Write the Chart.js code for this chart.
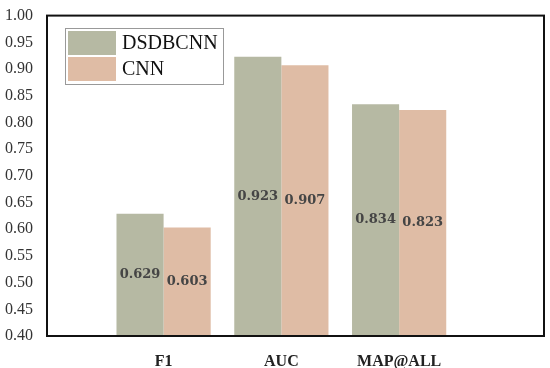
<!DOCTYPE html>
<html>
<head>
<meta charset="utf-8">
<script src="https://cdn.jsdelivr.net/npm/chart.js@4/dist/chart.umd.min.js"></script>
<style>
  html, body { margin: 0; padding: 0; background: #fff; }
  #wrap { width: 550px; height: 368px; position: relative; }
</style>
</head>
<body>
<div id="wrap"><canvas id="chart"></canvas></div>
<script>
// Grouped bar chart: DSDBCNN vs CNN on F1 / AUC / MAP@ALL

const categories = ['F1', 'AUC', 'MAP@ALL'];
const seriesNames = ['DSDBCNN', 'CNN'];
const dsdbcnn = [0.629, 0.923, 0.834];
const cnn     = [0.603, 0.907, 0.823];
const yTicks  = [0.40, 0.45, 0.50, 0.55, 0.60, 0.65, 0.70, 0.75, 0.80, 0.85, 0.90, 0.95, 1.00];

const colors = ['#b6b9a3', '#dfbca5'];

const toPoints = arr => arr.map((v, i) => ({ x: i, y: v }));

// frame around the plot, value labels inside bars, boxed legend
const decorations = {
  id: 'decorations',
  afterDatasetsDraw(chart) {
    const { ctx, chartArea: a } = chart;
    ctx.save();
    ctx.font = 'bold 13px "DejaVu Serif"';
    ctx.fillStyle = '#454545';
    ctx.textAlign = 'center';
    ctx.textBaseline = 'middle';
    chart.data.datasets.forEach((ds, di) => {
      chart.getDatasetMeta(di).data.forEach((bar, i) => {
        const mid = (bar.y + a.bottom) / 2;
        ctx.fillText(ds.data[i].y.toFixed(3), bar.x, mid);
      });
    });
    ctx.restore();
  },
  afterDraw(chart) {
    const { ctx, chartArea: a } = chart;
    ctx.save();
    ctx.strokeStyle = '#111';
    ctx.lineWidth = 2;
    ctx.strokeRect(a.left, a.top, a.right - a.left, a.bottom - a.top);

    // legend
    ctx.fillStyle = '#fff';
    ctx.fillRect(65, 28, 158, 56);
    ctx.strokeStyle = '#999';
    ctx.lineWidth = 1;
    ctx.strokeRect(65.5, 28.5, 158, 56);
    seriesNames.forEach((name, i) => {
      ctx.fillStyle = colors[i];
      ctx.fillRect(68, 31 + i * 26, 48, 24);
      ctx.fillStyle = '#111';
      ctx.font = '20px "Liberation Serif"';
      ctx.textBaseline = 'middle';
      ctx.fillText(name, 122, 44 + i * 26);
    });
    ctx.restore();
  }
};

new Chart(document.getElementById('chart').getContext('2d'), {
  type: 'bar',
  data: {
    datasets: [
      { label: seriesNames[0], data: toPoints(dsdbcnn), backgroundColor: colors[0],
        barPercentage: 1, categoryPercentage: 0.8 },
      { label: seriesNames[1], data: toPoints(cnn), backgroundColor: colors[1],
        barPercentage: 1, categoryPercentage: 0.8 }
    ]
  },
  options: {
    responsive: true,
    maintainAspectRatio: false,
    animation: false,
    layout: { padding: { top: 14, right: 6, left: 0, bottom: 0 } },
    plugins: {
      legend: { display: false },
      tooltip: { enabled: false }
    },
    scales: {
      x: {
        type: 'linear',
        offset: false,
        min: -0.99,
        max: 3.23,
        grid: { display: false, offset: false },
        border: { display: false },
        afterBuildTicks(scale) {
          scale.ticks = categories.map((c, i) => ({ value: i }));
        },
        afterFit(scale) { scale.height = 32; },
        ticks: {
          padding: 8,
          color: '#222',
          font: { family: '"Liberation Serif"', size: 16, weight: 'bold' },
          callback: v => categories[v] ?? ''
        }
      },
      y: {
        min: 0.40,
        max: 1.00,
        grid: { display: false },
        border: { display: false },
        afterBuildTicks(scale) {
          scale.ticks = yTicks.map(v => ({ value: v }));
        },
        afterFit(scale) { scale.width = 47; },
        ticks: {
          padding: 6,
          color: '#333',
          font: { family: '"Liberation Serif"', size: 16 },
          callback: v => v.toFixed(2)
        }
      }
    }
  },
  plugins: [decorations]
});
</script>
</body>
</html>
